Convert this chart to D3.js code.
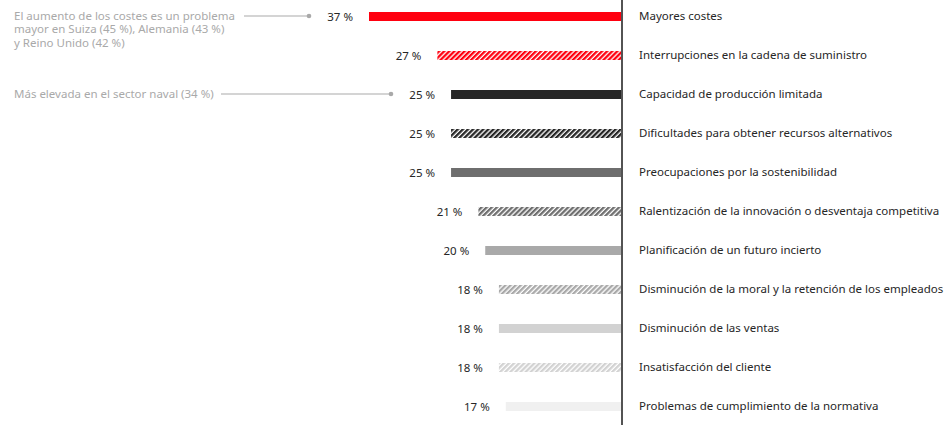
<!DOCTYPE html>
<html>
<head>
<meta charset="utf-8">
<script src="https://cdn.jsdelivr.net/npm/d3@7"></script>
<style>
  body { margin: 0; background: #fff; }
  text { font-family: "Noto Sans", "Open Sans", sans-serif; }
</style>
</head>
<body>
<svg id="chart" width="947" height="425"></svg>
<script>
const svg = d3.select('#chart')
const width = 947
const height = 425

// dati
const categorie = [
  "Mayores costes",
  "Interrupciones en la cadena de suministro",
  "Capacidad de producción limitada",
  "Dificultades para obtener recursos alternativos",
  "Preocupaciones por la sostenibilidad",
  "Ralentización de la innovación o desventaja competitiva",
  "Planificación de un futuro incierto",
  "Disminución de la moral y la retención de los empleados",
  "Disminución de las ventas",
  "Insatisfacción del cliente",
  "Problemas de cumplimiento de la normativa"
]
const valori = [37, 27, 25, 25, 25, 21, 20, 18, 18, 18, 17]
const colori = ["#ff000f", "#ff000f", "#262626", "#262626", "#6e6e6e", "#6e6e6e",
                "#a9a9a9", "#a9a9a9", "#d2d2d2", "#d2d2d2", "#f0f0f0"]
const tratteggio = [false, true, false, true, false, true, false, true, false, true, false]

const note = [
  { riga: 0, righe: ["El aumento de los costes es un problema", "mayor en Suiza (45 %), Alemania (43 %)", "y Reino Unido (42 %)"], x1: 244, x2: 309 },
  { riga: 2, righe: ["Más elevada en el sector naval (34 %)"], x1: 221, x2: 391 }
]

const asseX = 622
const fs = '11.5px'
const x = d3.scaleLinear().domain([0, 37]).range([asseX, 369])
const y = d3.scalePoint().domain(categorie).range([16.5, 406.5])
const barH = 9

// pattern tratteggiati
const defs = svg.append('defs')
colori.forEach((c, i) => {
  if (!tratteggio[i]) return
  const p = defs.append('pattern')
    .attr('id', 'hatch' + i)
    .attr('patternUnits', 'userSpaceOnUse')
    .attr('width', 3.6)
    .attr('height', 3.6)
    .attr('patternTransform', 'rotate(45)')
  p.append('rect').attr('width', 3.6).attr('height', 3.6).attr('fill', '#fff')
  p.append('rect').attr('width', 2.3).attr('height', 3.6).attr('fill', c)
})

const righe = svg.selectAll('g.riga')
  .data(categorie).enter()
  .append('g').attr('class', 'riga')

righe.append('rect')
  .attr('x', (d, i) => x(valori[i]))
  .attr('y', d => y(d) - barH / 2)
  .attr('width', (d, i) => asseX - x(valori[i]) - 1)
  .attr('height', barH)
  .attr('fill', (d, i) => tratteggio[i] ? `url(#hatch${i})` : colori[i])

righe.append('text')
  .attr('x', (d, i) => x(valori[i]) - 16)
  .attr('y', d => y(d))
  .attr('dy', '0.35em')
  .attr('text-anchor', 'end')
  .attr('font-size', fs)
  .attr('fill', '#262626')
  .text((d, i) => valori[i] + ' %')

righe.append('text')
  .attr('x', asseX + 17)
  .attr('y', d => y(d) - 1)
  .attr('dy', '0.35em')
  .attr('font-size', fs)
  .attr('fill', '#262626')
  .text(d => d)

// asse verticale
svg.append('line')
  .attr('x1', asseX).attr('x2', asseX)
  .attr('y1', 0).attr('y2', height)
  .attr('stroke', '#1a1a1a')
  .attr('stroke-width', 1.5)

// annotazioni
note.forEach(n => {
  const yy = y(categorie[n.riga])
  const t = svg.append('text')
    .attr('x', 14)
    .attr('y', yy - 1)
    .attr('font-size', fs)
    .attr('fill', '#a9a9a9')
  n.righe.forEach((r, k) => {
    t.append('tspan').attr('x', 14).attr('dy', k == 0 ? '0.35em' : '13.5px').text(r)
  })
  svg.append('line')
    .attr('x1', n.x1).attr('x2', n.x2)
    .attr('y1', yy - 0.5).attr('y2', yy - 0.5)
    .attr('stroke', '#a9a9a9')
    .attr('stroke-width', 1)
  svg.append('circle')
    .attr('cx', n.x2).attr('cy', yy - 0.5)
    .attr('r', 2.3)
    .attr('fill', '#a9a9a9')
})
</script>
</body>
</html>
